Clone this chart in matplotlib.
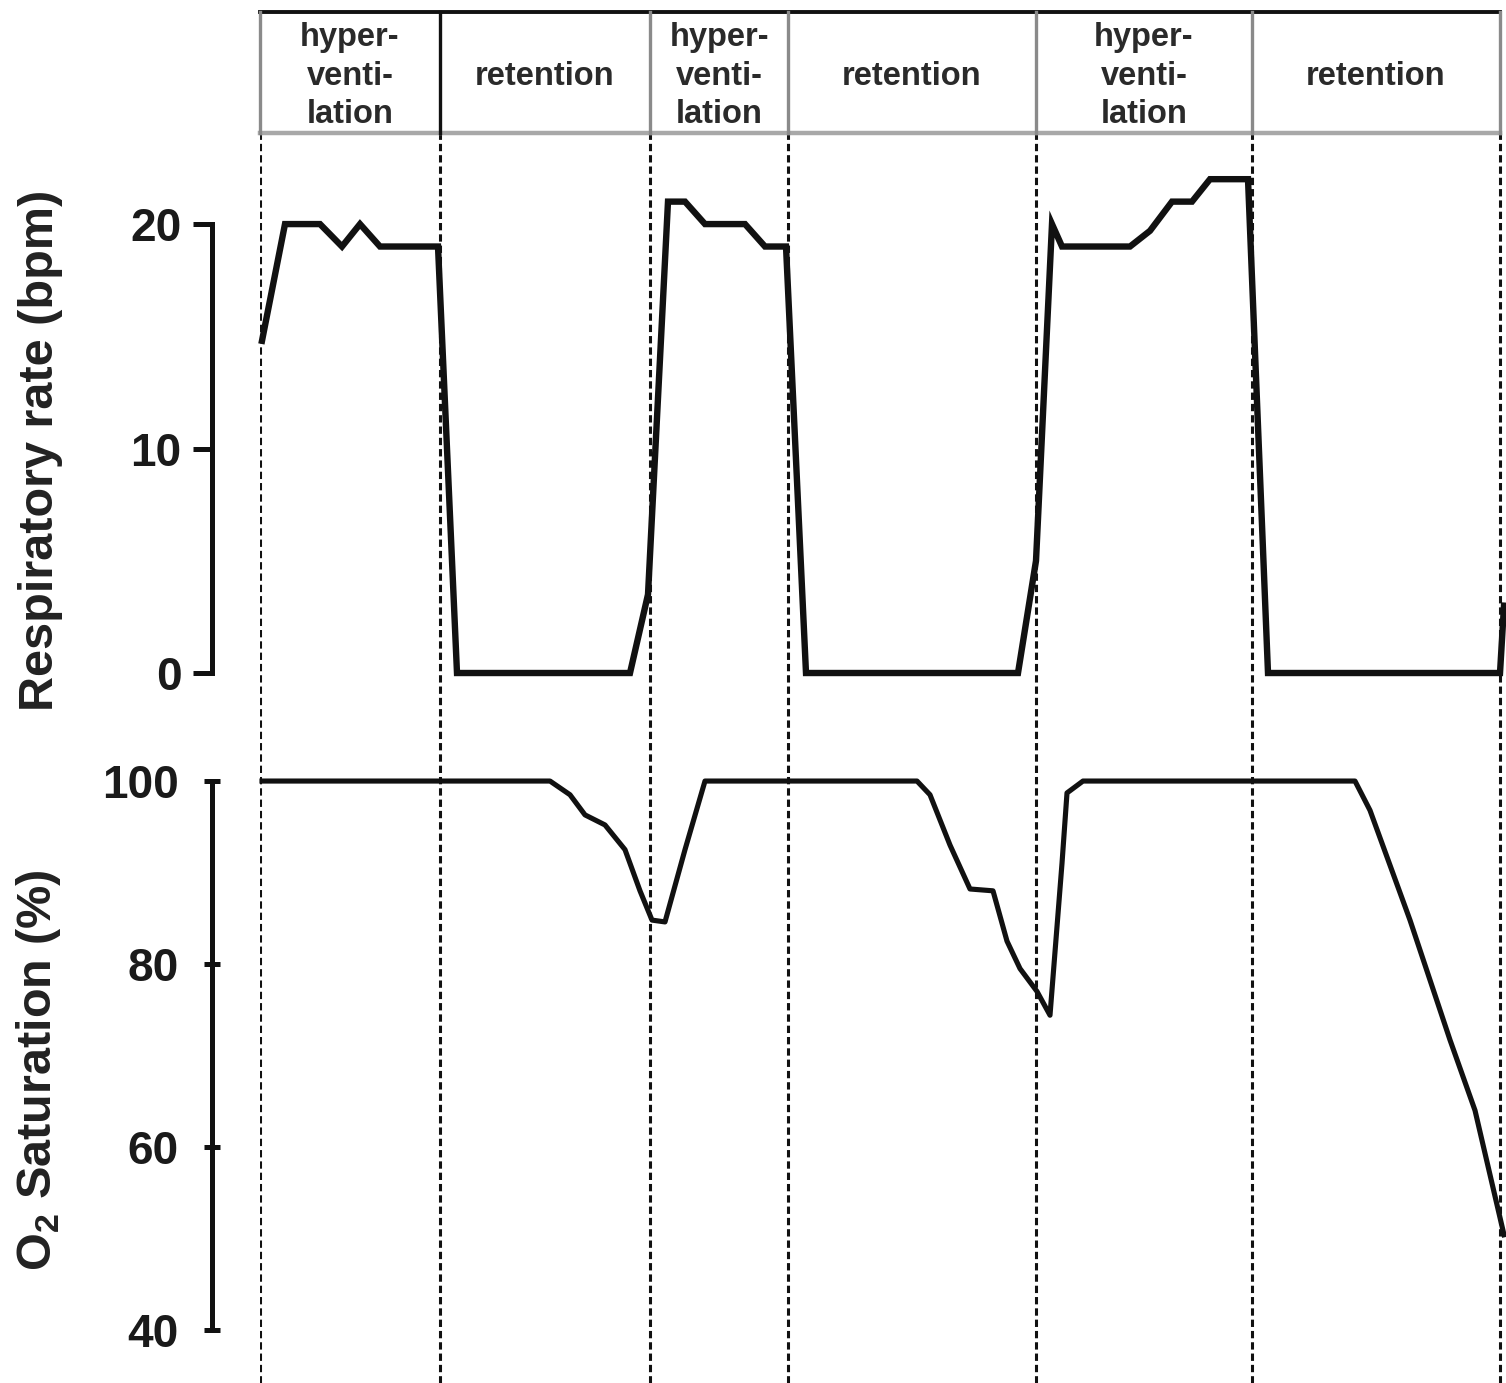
import numpy as np
import matplotlib
matplotlib.use("Agg")
import matplotlib.pyplot as plt

plt.rcParams['font.family'] = ['Liberation Sans', 'DejaVu Sans']
plt.rcParams['mathtext.fontset'] = 'custom'
plt.rcParams['mathtext.rm'] = 'Liberation Sans'
plt.rcParams['mathtext.bf'] = 'Liberation Sans:bold'

# phase boundaries (s) and labels
bounds = [0, 90, 195, 264, 388, 496, 620]
phases = ['hyper-\nventi-\nlation', 'retention',
          'hyper-\nventi-\nlation', 'retention',
          'hyper-\nventi-\nlation', 'retention']

# respiratory rate (bpm)
resp_t = [1, 12.5, 30, 41, 50, 60, 89, 98.5, 185, 194, 204, 212.5, 222.5,
          242.5, 252.5, 263, 273, 379, 388, 396, 401, 435, 445, 456, 466,
          475, 494, 504, 620, 622]
resp_v = [14.8, 20, 20, 19, 20, 19, 19, 0, 0, 3.5, 21, 21, 20,
          20, 19, 19, 0, 0, 5, 20, 19, 19, 19.7, 21, 21,
          22, 22, 0, 0, 3]

# O2 saturation (%)
o2_t = [1, 145, 155, 162.5, 172.5, 182.5, 190, 196, 202.5, 212.5, 222.5,
        328.5, 335, 345, 355, 366.5, 373.5, 380, 388.5, 395, 401, 403.5,
        411.5, 547.5, 555, 575, 595, 607.5, 622]
o2_v = [100, 100, 98.5, 96.3, 95.2, 92.5, 88, 84.8, 84.6, 92.5, 100,
        100, 98.5, 93, 88.2, 88, 82.5, 79.5, 77, 74.4, 91, 98.7,
        100, 100, 96.8, 84.8, 71.7, 64, 50.4]

W, H = 1506, 1383
fig = plt.figure(figsize=(W / 100, H / 100), dpi=100)
left, width = 260 / W, 1244 / W
xmax = 622

# dashed separators behind everything
ov = fig.add_axes([left, 0, width, 1250 / H])
ov.set_xlim(0, xmax)
ov.axis('off')
for b in bounds:
    ov.axvline(b, color='#111111', lw=2.2, linestyle=(0, (2.4, 1.3)))

# header boxes
hd = fig.add_axes([left, (H - 133) / H, width, 121 / H])
hd.set_xlim(0, xmax)
hd.set_ylim(0, 1)
hd.axis('off')
hd.plot([0, 620], [1, 1], color='#111111', lw=2.8, clip_on=False)
hd.plot([0, 620], [0, 0], color='#a8a8a8', lw=3.2, clip_on=False)
for i, b in enumerate(bounds):
    c = '#111111' if i == 1 else '#8a8a8a'
    hd.plot([b, b], [0, 1], color=c, lw=2.4, clip_on=False)
for i, p in enumerate(phases):
    hd.text((bounds[i] + bounds[i + 1]) / 2, 0.47, p, ha='center', va='center',
            fontsize=23.5, fontweight='bold', color='#2a2a2a', linespacing=1.3)


def style(ax, lo, hi, ticks, direction, length, pad):
    ax.patch.set_alpha(0)
    for s in ['top', 'right', 'bottom']:
        ax.spines[s].set_visible(False)
    ax.spines['left'].set_position(('outward', 34.5))
    ax.spines['left'].set_bounds(lo, hi)
    ax.spines['left'].set_linewidth(3.6)
    ax.spines['left'].set_color('#111111')
    ax.set_xlim(0, xmax)
    ax.set_xticks([])
    ax.set_yticks(ticks)
    ax.tick_params(axis='y', direction=direction, length=length, width=3.6,
                   color='#111111', labelsize=33, pad=pad)
    for lab in ax.get_yticklabels():
        lab.set_fontweight('bold')
        lab.set_color('#1a1a1a')


# respiratory rate
ax1 = fig.add_axes([left, (H - 690) / H, width, 540 / H])
ax1.plot(resp_t, resp_v, color='#111111', lw=4.6, solid_joinstyle='miter', clip_on=False)
ax1.set_ylim(-0.757, 23.3)
style(ax1, 0, 20, [0, 10, 20], 'out', 14, 8)
ax1.set_ylabel('Respiratory rate (bpm)', fontsize=35, fontweight='bold', color='#222222')
ax1.yaxis.set_label_coords(-0.158, 0.444)

# O2 saturation
ax2 = fig.add_axes([left, 0, width, 623 / H])
ax2.plot(o2_t, o2_v, color='#111111', lw=3.7, clip_on=False)
ax2.set_ylim(34.2, 102.3)
style(ax2, 40, 100, [40, 60, 80, 100], 'inout', 12, 18)
ax2.set_ylabel(r'O$_\mathbf{2}$ Saturation (%)', fontsize=35, fontweight='bold', color='#222222')
ax2.yaxis.set_label_coords(-0.158, 0.502)

fig.savefig('out.png', dpi=100)
